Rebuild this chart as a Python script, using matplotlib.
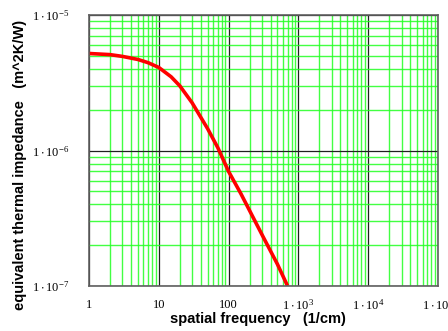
import matplotlib
matplotlib.use("Agg")
import matplotlib.pyplot as plt
import numpy as np
from matplotlib.ticker import FixedLocator, FuncFormatter, LogLocator, NullFormatter

# values
freq = [1, 2, 3, 5, 7, 10, 15, 20, 30, 50, 70, 100, 150, 200, 300, 500, 700]
impedance = [5.2e-6, 5.1e-6, 4.95e-6, 4.7e-6, 4.45e-6, 4.1e-6, 3.5e-6, 3.0e-6,
             2.25e-6, 1.45e-6, 1.05e-6, 7.0e-7, 4.8e-7, 3.6e-7, 2.4e-7, 1.45e-7, 1.0e-7]

x_ticks = [1, 10, 100, 1e3, 1e4, 1e5]
y_ticks = [1e-7, 1e-6, 1e-5]

plt.rcParams["mathtext.fontset"] = "custom"
plt.rcParams["mathtext.rm"] = "Liberation Serif"
plt.rcParams["mathtext.it"] = "Liberation Serif"


def x_fmt(v, _pos):
    if v < 1000:
        return f"{v:g}"
    return rf"$\mathregular{{1\cdot10^{{{int(round(np.log10(v)))}}}}}$"


def y_fmt(v, _pos):
    return rf"$\mathregular{{1\cdot10^{{{int(round(np.log10(v)))}}}}}$"


fig = plt.figure(figsize=(4.48, 3.31), dpi=100)
ax = fig.add_axes([89 / 448, 1 - 286 / 331, (438 - 89) / 448, (286 - 15) / 331])

ax.set_xscale("log")
ax.set_yscale("log")
ax.set_xlim(1, 1e5)
ax.set_ylim(1e-7, 1e-5)

ax.xaxis.set_major_locator(FixedLocator(x_ticks))
ax.yaxis.set_major_locator(FixedLocator(y_ticks))
ax.xaxis.set_minor_locator(LogLocator(base=10, subs=range(2, 10)))
ax.yaxis.set_minor_locator(LogLocator(base=10, subs=range(2, 10)))
ax.xaxis.set_minor_formatter(NullFormatter())
ax.yaxis.set_minor_formatter(NullFormatter())
ax.xaxis.set_major_formatter(FuncFormatter(x_fmt))
ax.yaxis.set_major_formatter(FuncFormatter(y_fmt))

ax.grid(True, which="minor", color="#22ff22", linewidth=1.0, alpha=0.85)
ax.grid(True, which="major", color="#202020", linewidth=0.9)
ax.set_axisbelow(True)

ax.plot(freq, impedance, color="#ff0000", linewidth=2.6, solid_capstyle="butt")

for side in ("left", "bottom", "top", "right"):
    ax.spines[side].set_color("#606060")
    ax.spines[side].set_linewidth(1.2)

ax.tick_params(which="both", length=0)
ax.tick_params(axis="x", pad=9)
ax.tick_params(axis="y", pad=14)
for lbl in ax.get_xticklabels() + ax.get_yticklabels():
    lbl.set_fontfamily("Liberation Serif")
    lbl.set_fontsize(9)

# axis titles placed like the reference (centred on the figure, not the axes)
fig.text(258 / 448, 1 - 323 / 331, "spatial frequency   (1/cm)",
         fontfamily="Liberation Sans", fontweight="bold", fontsize=10.5,
         ha="center", va="baseline")
fig.text(20 / 448, 1 - 165 / 331, "equivalent thermal impedance   (m^2K/W)",
         fontfamily="Liberation Sans", fontweight="bold", fontsize=10.5,
         rotation=90, ha="center", va="center")

fig.savefig("out.png", dpi=100)
